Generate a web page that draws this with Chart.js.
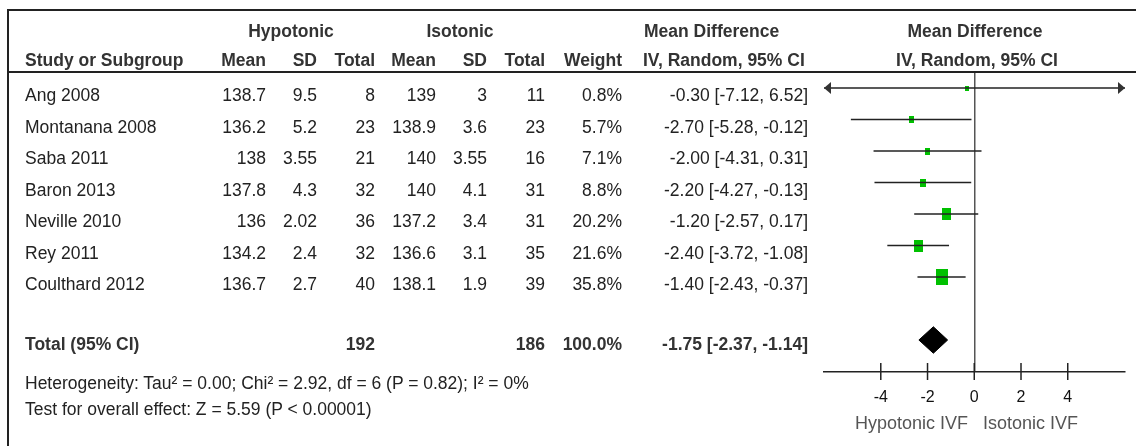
<!DOCTYPE html>
<html>
<head>
<meta charset="utf-8">
<script src="https://cdn.jsdelivr.net/npm/chart.js@4.4.1/dist/chart.umd.min.js"></script>
<style>
  html, body { margin: 0; padding: 0; background: #fff; }
  #wrap { position: relative; width: 1136px; height: 446px; overflow: hidden;
          font-family: "Liberation Sans", Arial, Helvetica, sans-serif; }
  #plot { position: absolute; left: 0; top: 0; }
  .t { position: absolute; white-space: pre; font-size: 17.5px; line-height: 20px; color: #222; }
  .b { font-weight: bold; color: #333; }
  .axl { font-size: 18px; color: #555; }
  .rule { position: absolute; background: #222; }
</style>
</head>
<body>
<div id="wrap">
  <canvas id="plot" width="1136" height="446"></canvas>
  <div class="rule" style="left:7px;top:8.5px;width:1129px;height:2px;"></div>
  <div class="rule" style="left:7px;top:8.5px;width:2px;height:438px;"></div>
  <div class="rule" style="left:7px;top:71px;width:1129px;height:1.6px;"></div>
</div>
<script>
// Study rows
const studies   = ['Ang 2008', 'Montanana 2008', 'Saba 2011', 'Baron 2013', 'Neville 2010', 'Rey 2011', 'Coulthard 2012'];
const hypoMean  = [138.7, 136.2, 138, 137.8, 136, 134.2, 136.7];
const hypoSD    = [9.5, 5.2, 3.55, 4.3, 2.02, 2.4, 2.7];
const hypoN     = [8, 23, 21, 32, 36, 32, 40];
const isoMean   = [139, 138.9, 140, 140, 137.2, 136.6, 138.1];
const isoSD     = [3, 3.6, 3.55, 4.1, 3.4, 3.1, 1.9];
const isoN      = [11, 23, 16, 31, 31, 35, 39];
const weights   = [0.8, 5.7, 7.1, 8.8, 20.2, 21.6, 35.8];
const meanDiff  = [-0.30, -2.70, -2.00, -2.20, -1.20, -2.40, -1.40];
const ciLow     = [-7.12, -5.28, -4.31, -4.27, -2.57, -3.72, -2.43];
const ciHigh    = [6.52, -0.12, 0.31, -0.13, 0.17, -1.08, -0.37];

// Pooled result
const totalN     = [192, 186];
const totalW     = 100.0;
const pooledMD   = [-1.75, -2.37, -1.14];   // estimate, lower, upper

// Axis
const xTicks     = [-4, -2, 0, 2, 4];
const axisLabels = ['Hypotonic IVF', 'Isotonic IVF'];

const heterogeneityText = 'Heterogeneity: Tau\u00b2 = 0.00; Chi\u00b2 = 2.92, df = 6 (P = 0.82); I\u00b2 = 0%';
const overallText       = 'Test for overall effect: Z = 5.59 (P < 0.00001)';

// ---------- table text ----------
const wrap = document.getElementById('wrap');
function put(text, x, y, align, cls) {
  const d = document.createElement('div');
  d.className = 't' + (cls ? ' ' + cls : '');
  d.textContent = text;
  d.style.top = (y - 10) + 'px';
  if (align === 'right') { d.style.right = (1136 - x) + 'px'; }
  else if (align === 'center') { d.style.left = x + 'px'; d.style.transform = 'translateX(-50%)'; }
  else { d.style.left = x + 'px'; }
  wrap.appendChild(d);
}
const fmt2 = v => v.toFixed(2);
const ciText = (m, lo, hi) => fmt2(m) + ' [' + fmt2(lo) + ', ' + fmt2(hi) + ']';

const colX = { name: 25, hMean: 266, hSD: 317, hN: 375, iMean: 436, iSD: 487, iN: 545, w: 622, ci: 808 };

// header
put('Hypotonic', 291, 31, 'center', 'b');
put('Isotonic', 460, 31, 'center', 'b');
put('Mean Difference', 644, 31, 'left', 'b');
put('Mean Difference', 975, 31, 'center', 'b');
put('Study or Subgroup', colX.name, 60, 'left', 'b');
put('Mean', colX.hMean, 60, 'right', 'b');
put('SD', colX.hSD, 60, 'right', 'b');
put('Total', colX.hN, 60, 'right', 'b');
put('Mean', colX.iMean, 60, 'right', 'b');
put('SD', colX.iSD, 60, 'right', 'b');
put('Total', colX.iN, 60, 'right', 'b');
put('Weight', colX.w, 60, 'right', 'b');
put('IV, Random, 95% CI', 643, 60, 'left', 'b');
put('IV, Random, 95% CI', 977, 60, 'center', 'b');

// study rows
studies.forEach((s, i) => {
  const y = 95 + 31.5 * i;
  put(s, colX.name, y, 'left');
  put(String(hypoMean[i]), colX.hMean, y, 'right');
  put(String(hypoSD[i]), colX.hSD, y, 'right');
  put(String(hypoN[i]), colX.hN, y, 'right');
  put(String(isoMean[i]), colX.iMean, y, 'right');
  put(String(isoSD[i]), colX.iSD, y, 'right');
  put(String(isoN[i]), colX.iN, y, 'right');
  put(weights[i].toFixed(1) + '%', colX.w, y, 'right');
  put(ciText(meanDiff[i], ciLow[i], ciHigh[i]), colX.ci, y, 'right');
});

// total row
put('Total (95% CI)', colX.name, 344, 'left', 'b');
put(String(totalN[0]), colX.hN, 344, 'right', 'b');
put(String(totalN[1]), colX.iN, 344, 'right', 'b');
put(totalW.toFixed(1) + '%', colX.w, 344, 'right', 'b');
put(ciText(pooledMD[0], pooledMD[1], pooledMD[2]), colX.ci, 344, 'right', 'b');
put(heterogeneityText, colX.name, 383, 'left');
put(overallText, colX.name, 409, 'left');

// favours labels under the axis
put(axisLabels[0], 968, 423, 'right', 'axl');
put(axisLabels[1], 983, 423, 'left', 'axl');

// ---------- forest plot ----------
const X_MIN = -6.43, X_MAX = 6.45;
const TOTAL_ROW = 8, AXIS_ROW = 9;

// weight-scaled green boxes
function box(w) {
  const bw = Math.max(4, Math.round(2 * Math.sqrt(w)));
  const bh = Math.round(bw * 1.3);
  const c = document.createElement('canvas');
  c.width = bw; c.height = bh;
  const g = c.getContext('2d');
  g.fillStyle = '#00c000';
  g.fillRect(0, 0, bw, bh);
  return c;
}

const datasets = [];
// confidence intervals
studies.forEach((s, i) => {
  datasets.push({
    label: s,
    data: [{ x: ciLow[i], y: i }, { x: ciHigh[i], y: i }],
    showLine: true, borderColor: '#222', borderWidth: 1.5, pointRadius: 0
  });
});
// point estimates
datasets.push({
  label: 'estimates',
  data: meanDiff.map((m, i) => ({ x: m, y: i })),
  pointStyle: weights.map(box),
  pointRadius: 6,
  showLine: false
});
// pooled diamond
const dh = 0.42;
datasets.push({
  label: 'pooled',
  data: [
    { x: pooledMD[1], y: TOTAL_ROW },
    { x: pooledMD[0], y: TOTAL_ROW - dh },
    { x: pooledMD[2], y: TOTAL_ROW },
    { x: pooledMD[0], y: TOTAL_ROW + dh },
    { x: pooledMD[1], y: TOTAL_ROW }
  ],
  showLine: true, fill: 'shape', backgroundColor: '#000', borderColor: '#000',
  borderWidth: 1, pointRadius: 0, tension: 0
});
// tick marks crossing the axis
datasets.push({
  label: 'ticks',
  data: xTicks.map(v => ({ x: v, y: AXIS_ROW })),
  pointStyle: 'line', rotation: 90, pointRadius: 8.5,
  borderColor: '#222', pointBorderWidth: 1.5, showLine: false, clip: false
});

// arrowheads where an interval runs past the axis
const ciArrows = {
  id: 'ciArrows',
  afterDatasetsDraw(chart) {
    const { ctx, chartArea: a, scales: { x, y } } = chart;
    ctx.save();
    ctx.fillStyle = '#333';
    ciLow.forEach((lo, i) => {
      const py = y.getPixelForValue(i);
      if (lo < x.min) {
        ctx.beginPath();
        ctx.moveTo(a.left, py); ctx.lineTo(a.left + 7, py - 6); ctx.lineTo(a.left + 7, py + 6);
        ctx.closePath(); ctx.fill();
      }
      if (ciHigh[i] > x.max) {
        ctx.beginPath();
        ctx.moveTo(a.right, py); ctx.lineTo(a.right - 7, py - 6); ctx.lineTo(a.right - 7, py + 6);
        ctx.closePath(); ctx.fill();
      }
    });
    ctx.restore();
  }
};

new Chart(document.getElementById('plot'), {
  type: 'scatter',
  data: { datasets },
  plugins: [ciArrows],
  options: {
    responsive: false,
    animation: false,
    devicePixelRatio: 1,
    layout: { padding: { left: 824, right: 11, top: 72.25, bottom: 0 } },
    plugins: { legend: { display: false }, tooltip: { enabled: false } },
    scales: {
      x: {
        type: 'linear', min: X_MIN, max: X_MAX,
        afterBuildTicks: s => { s.ticks = xTicks.map(v => ({ value: v })); },
        afterFit: s => { s.height = 446 - 371.5; },
        grid: {
          drawTicks: false,
          color: c => (c.tick && c.tick.value === 0 ? '#555' : 'rgba(0,0,0,0)'),
          lineWidth: 1.5
        },
        border: { display: true, color: '#222', width: 1.5 },
        ticks: {
          padding: 16, color: '#111',
          font: { family: '"Liberation Sans", Arial, sans-serif', size: 16 },
          callback: v => String(v)
        }
      },
      y: { type: 'linear', min: -0.5, max: AXIS_ROW, reverse: true, display: false }
    }
  }
});
</script>
</body>
</html>
